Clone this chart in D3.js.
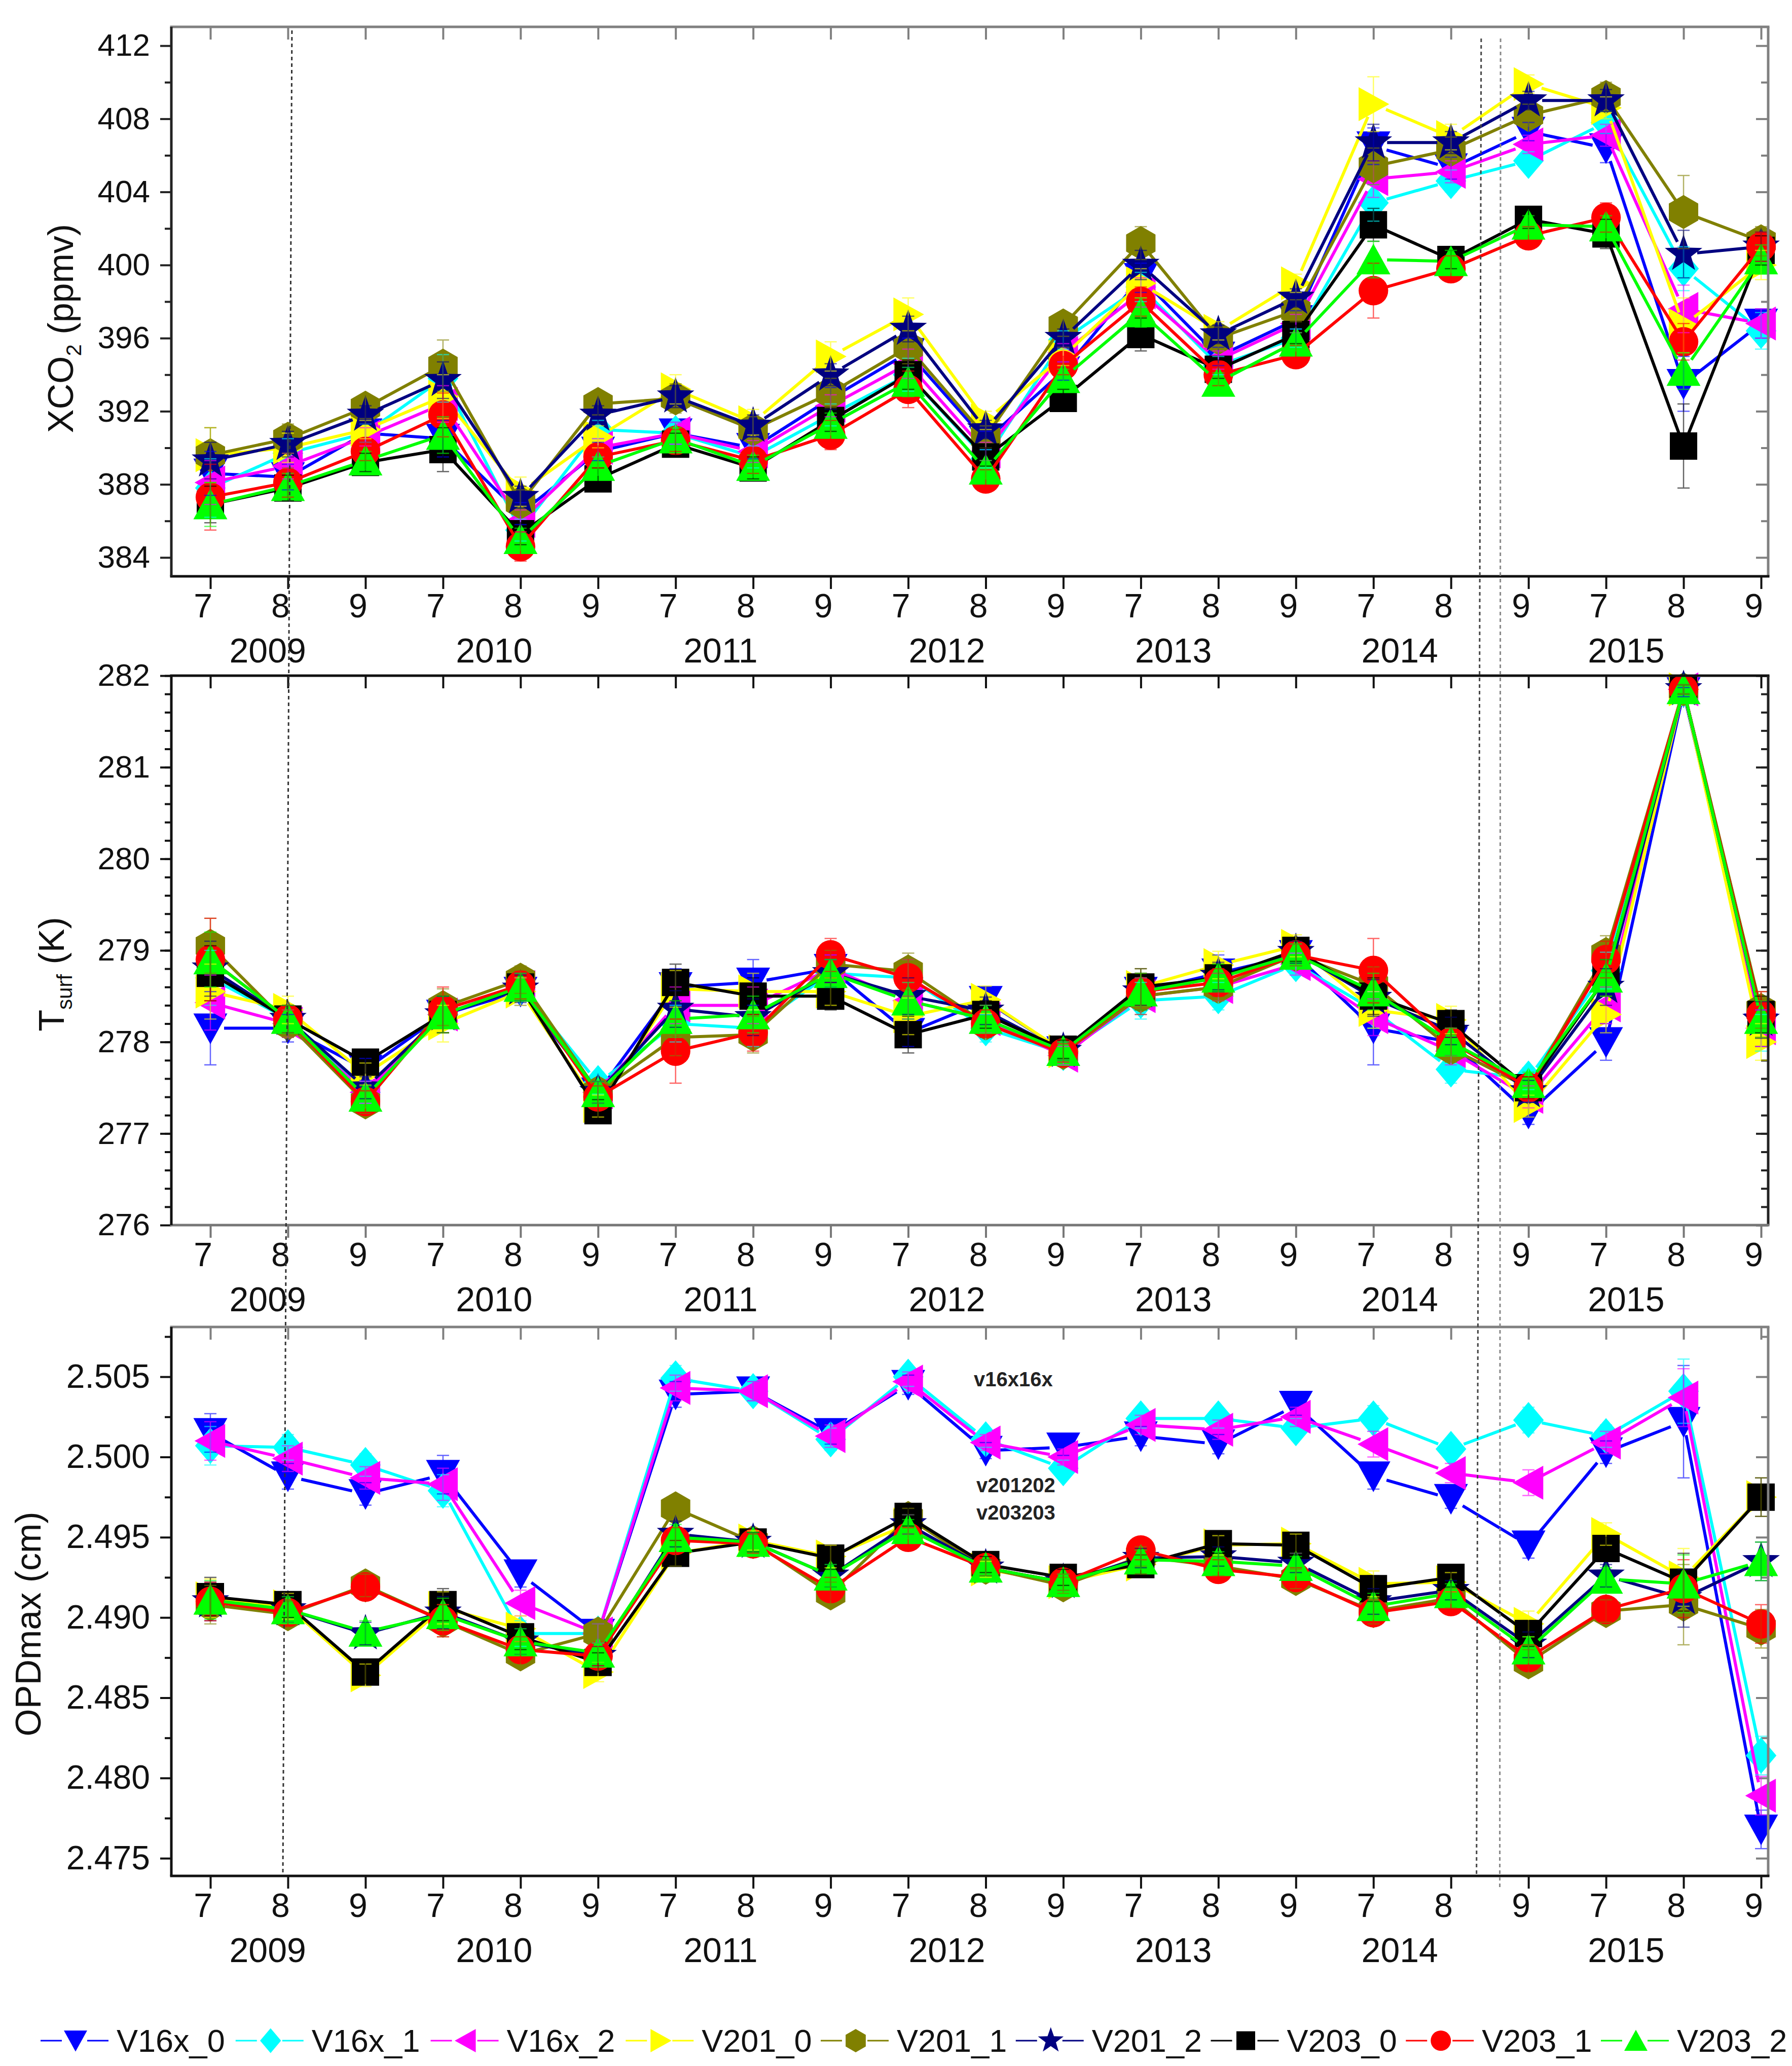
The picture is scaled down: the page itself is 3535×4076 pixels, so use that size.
<!DOCTYPE html>
<html lang="en">
<head>
<meta charset="utf-8">
<title>XCO2, Tsurf and OPDmax</title>
<script src="https://d3js.org/d3.v7.min.js"></script>
<style>
  body { margin: 0; background: #fff; }
  svg { display: block; font-family: "Liberation Sans", Arial, sans-serif; }
</style>
</head>
<body>
<script>

// ---------- data ----------
var years = ["2009", "2010", "2011", "2012", "2013", "2014", "2015"];
var months = ["7", "8", "9"];
var monthLabels = years.flatMap(function () { return months; });   // 21 periods

var names  = ["V16x_0", "V16x_1", "V16x_2", "V201_0", "V201_1", "V201_2", "V203_0", "V203_1", "V203_2"];
var colors = ["#0000ff", "#00ffff", "#ff00ff", "#ffff00", "#808000", "#000080", "#000000", "#ff0000", "#00ff00"];
var shapes = ["tri-down", "diamond", "tri-left", "tri-right", "hexagon", "star", "square", "circle", "tri-up"];

// XCO2 (ppmv), one row per series (same order as names)
var xco2 = [
  [388.6, 388.4, 390.8, 390.5, 386.4, 389.8, 390.8, 390.0, 392.7, 395.2, 390.4, 394.2, 399.3, 395.0, 397.0, 406.5, 405.3, 407.3, 406.4, 393.5, 396.8],
  [387.8, 389.7, 390.8, 393.8, 385.5, 391.0, 390.8, 389.5, 391.8, 394.0, 389.4, 395.9, 398.8, 394.5, 396.0, 403.4, 404.6, 405.7, 407.8, 399.8, 396.4],
  [388.1, 389.0, 390.6, 392.4, 386.0, 390.0, 390.8, 389.8, 392.3, 394.6, 389.8, 395.2, 398.5, 394.8, 396.8, 404.7, 405.1, 406.6, 407.1, 397.6, 396.8],
  [389.6, 390.0, 391.0, 392.8, 387.6, 390.6, 393.2, 391.4, 395.0, 397.3, 391.5, 395.0, 399.0, 396.4, 399.0, 408.8, 407.0, 409.9, 408.6, 396.7, 400.0],
  [389.6, 390.5, 392.2, 394.5, 387.0, 392.4, 392.7, 391.0, 393.0, 395.5, 390.6, 396.7, 401.2, 396.0, 397.5, 405.4, 406.3, 408.2, 409.2, 402.9, 401.3],
  [389.3, 390.2, 391.8, 393.7, 387.3, 391.8, 392.8, 391.2, 394.0, 396.5, 391.0, 396.0, 400.0, 396.2, 398.2, 406.7, 406.7, 409.0, 409.0, 400.6, 401.0],
  [386.9, 387.8, 389.2, 389.9, 385.3, 388.3, 390.2, 388.9, 391.5, 394.0, 389.5, 392.7, 396.2, 394.3, 396.2, 402.2, 400.3, 402.5, 401.7, 390.1, 400.8],
  [387.3, 388.1, 389.8, 391.8, 384.6, 389.5, 390.4, 389.3, 390.7, 393.2, 388.3, 394.5, 398.0, 394.0, 395.1, 398.6, 399.8, 401.6, 402.6, 395.8, 401.0],
  [386.9, 387.9, 389.3, 390.7, 385.0, 389.0, 390.5, 389.0, 391.3, 393.6, 388.8, 393.8, 397.4, 393.6, 395.8, 400.3, 400.2, 402.2, 402.1, 394.2, 400.3]
];
var xco2Err = [
  [1.2, 0.7, 0.5, 1.0, 0.6, 0.5, 0.6, 0.6, 0.6, 0.8, 0.5, 0.5, 0.8, 0.5, 0.5, 1.0, 0.6, 0.5, 0.8, 1.5, 0.8],
  [1.6, 0.8, 0.5, 1.3, 0.6, 0.5, 0.6, 0.6, 0.6, 0.9, 0.5, 0.5, 0.8, 0.5, 0.5, 1.0, 0.6, 0.5, 0.6, 1.2, 1.0],
  [1.2, 0.7, 0.5, 1.0, 0.6, 0.5, 0.6, 0.6, 0.6, 0.8, 0.5, 0.5, 0.8, 0.5, 0.5, 1.0, 0.6, 0.5, 0.6, 1.3, 0.8],
  [1.5, 0.8, 0.5, 1.2, 0.8, 0.6, 0.8, 0.7, 0.8, 0.9, 0.5, 0.5, 0.8, 0.5, 0.5, 1.5, 0.7, 0.5, 0.6, 1.5, 0.8],
  [1.5, 0.8, 0.6, 1.4, 0.7, 0.6, 0.8, 0.7, 0.8, 0.9, 0.6, 0.6, 0.9, 0.6, 0.6, 1.0, 0.7, 0.6, 0.8, 2.0, 0.8],
  [1.0, 0.7, 0.5, 1.0, 0.6, 0.5, 0.6, 0.6, 0.6, 0.7, 0.5, 0.5, 0.8, 0.5, 0.5, 1.0, 0.6, 0.5, 0.6, 1.3, 0.8],
  [1.0, 0.7, 0.5, 1.2, 0.6, 0.6, 0.6, 0.6, 0.6, 0.8, 0.5, 0.5, 0.9, 0.5, 0.5, 0.9, 0.5, 0.5, 0.8, 2.3, 0.8],
  [1.8, 0.8, 0.5, 1.2, 0.8, 0.6, 0.6, 0.7, 0.8, 1.0, 0.5, 0.5, 0.8, 0.6, 0.5, 1.5, 0.7, 0.5, 0.8, 1.0, 0.8],
  [1.2, 0.7, 0.5, 1.0, 0.6, 0.5, 0.6, 0.6, 0.6, 0.8, 0.5, 0.5, 0.8, 0.5, 0.5, 1.0, 0.6, 0.5, 0.6, 1.0, 0.8]
];

// surface temperature (K)
var tsurf = [
  [278.15, 278.15, 277.70, 278.30, 278.55, 277.45, 278.60, 278.65, 278.80, 278.10, 278.45, 277.90, 278.55, 278.75, 278.95, 278.15, 278.00, 277.22, 278.00, 281.82, 278.15],
  [278.70, 278.25, 277.45, 278.30, 278.60, 277.55, 278.20, 278.15, 278.75, 278.70, 278.15, 277.88, 278.45, 278.50, 278.85, 278.35, 277.70, 277.60, 278.78, 281.85, 278.10],
  [278.43, 278.20, 277.45, 278.30, 278.60, 277.45, 278.40, 278.40, 278.80, 278.45, 278.25, 277.85, 278.50, 278.60, 278.85, 278.27, 277.90, 277.40, 278.40, 281.85, 278.15],
  [278.55, 278.35, 277.65, 278.20, 278.55, 277.30, 278.58, 278.55, 278.55, 278.28, 278.46, 277.90, 278.60, 278.84, 279.05, 278.35, 278.24, 277.30, 278.30, 281.85, 278.00],
  [279.05, 278.20, 277.34, 278.38, 278.68, 277.45, 278.05, 278.08, 278.85, 278.77, 278.20, 277.88, 278.50, 278.60, 278.95, 278.62, 277.93, 277.50, 278.96, 281.85, 278.35],
  [278.80, 278.25, 277.50, 278.30, 278.58, 277.45, 278.36, 278.27, 278.75, 278.50, 278.34, 277.90, 278.55, 278.72, 278.98, 278.48, 278.12, 277.46, 278.60, 281.85, 278.24],
  [278.75, 278.25, 277.78, 278.30, 278.60, 277.25, 278.65, 278.50, 278.50, 278.08, 278.30, 277.92, 278.60, 278.70, 279.00, 278.50, 278.20, 277.50, 278.70, 281.85, 278.30],
  [278.90, 278.25, 277.35, 278.35, 278.62, 277.40, 277.90, 278.10, 278.95, 278.70, 278.20, 277.88, 278.55, 278.65, 278.95, 278.78, 278.00, 277.50, 278.90, 281.85, 278.30],
  [278.90, 278.25, 277.40, 278.30, 278.60, 277.45, 278.25, 278.30, 278.75, 278.45, 278.25, 277.90, 278.55, 278.70, 278.95, 278.55, 278.00, 277.55, 278.70, 281.85, 278.25]
];
var tsurfErrBase = [0.30, 0.15, 0.12, 0.20, 0.15, 0.12, 0.20, 0.20, 0.15, 0.20, 0.15, 0.10, 0.20, 0.15, 0.12, 0.20, 0.15, 0.12, 0.20, 0.05, 0.20];
var tsurfErrBlue = [0.40, 0.15, 0.12, 0.20, 0.15, 0.12, 0.20, 0.25, 0.15, 0.15, 0.15, 0.10, 0.15, 0.20, 0.12, 0.40, 0.15, 0.12, 0.20, 0.05, 0.20];
var tsurfErrRed  = [0.45, 0.15, 0.12, 0.25, 0.15, 0.12, 0.35, 0.20, 0.18, 0.20, 0.15, 0.10, 0.20, 0.15, 0.12, 0.35, 0.15, 0.12, 0.20, 0.05, 0.25];
var tsurfErr = [tsurfErrBlue, tsurfErrBase, tsurfErrBase, tsurfErrBase, tsurfErrBase, tsurfErrBase, tsurfErrBase, tsurfErrRed, tsurfErrBase];

// OPDmax (cm)
var opd = [
  [2.5015, 2.4988, 2.4977, 2.4989, 2.4927, 2.4890, 2.5039, 2.5041, 2.5015, 2.5045, 2.5004, 2.5006, 2.5013, 2.5008, 2.5032, 2.4988, 2.4974, 2.4945, 2.5003, 2.5022, 2.4768],
  [2.5007, 2.5006, 2.4995, 2.4979, 2.4890, 2.4890, 2.5049, 2.5041, 2.5011, 2.5050, 2.5011, 2.4993, 2.5024, 2.5024, 2.5018, 2.5024, 2.5005, 2.5023, 2.5013, 2.5041, 2.4814],
  [2.5010, 2.4999, 2.4987, 2.4983, 2.4909, 2.4890, 2.5043, 2.5041, 2.5013, 2.5047, 2.5009, 2.5000, 2.5020, 2.5017, 2.5025, 2.5008, 2.4990, 2.4984, 2.5009, 2.5037, 2.4789],
  [2.4912, 2.4907, 2.4864, 2.4906, 2.4893, 2.4866, 2.4940, 2.4948, 2.4938, 2.4958, 2.4930, 2.4922, 2.4933, 2.4945, 2.4946, 2.4921, 2.4922, 2.4896, 2.4952, 2.4925, 2.4975],
  [2.4908, 2.4902, 2.4920, 2.4898, 2.4877, 2.4890, 2.4968, 2.4947, 2.4915, 2.4962, 2.4931, 2.4920, 2.4938, 2.4932, 2.4924, 2.4904, 2.4912, 2.4872, 2.4904, 2.4908, 2.4893],
  [2.4910, 2.4905, 2.4890, 2.4903, 2.4885, 2.4876, 2.4952, 2.4947, 2.4926, 2.4958, 2.4931, 2.4922, 2.4937, 2.4938, 2.4934, 2.4910, 2.4917, 2.4883, 2.4926, 2.4912, 2.4935],
  [2.4913, 2.4908, 2.4866, 2.4908, 2.4888, 2.4872, 2.4940, 2.4947, 2.4937, 2.4963, 2.4933, 2.4925, 2.4933, 2.4946, 2.4945, 2.4918, 2.4925, 2.4890, 2.4943, 2.4922, 2.4975],
  [2.4910, 2.4903, 2.4919, 2.4898, 2.4880, 2.4876, 2.4948, 2.4946, 2.4918, 2.4950, 2.4931, 2.4922, 2.4942, 2.4930, 2.4925, 2.4903, 2.4910, 2.4875, 2.4905, 2.4918, 2.4896],
  [2.4911, 2.4905, 2.4891, 2.4902, 2.4885, 2.4878, 2.4950, 2.4947, 2.4926, 2.4955, 2.4931, 2.4922, 2.4936, 2.4935, 2.4932, 2.4907, 2.4915, 2.4880, 2.4924, 2.4921, 2.4935]
];
var opdErrBase  = [0.0012, 0.0008, 0.0007, 0.0010, 0.0008, 0.0006, 0.0008, 0.0006, 0.0007, 0.0006, 0.0005, 0.0005, 0.0006, 0.0006, 0.0006, 0.0008, 0.0006, 0.0008, 0.0007, 0.0018, 0.0012];
var opdErrBlue  = [0.0012, 0.0008, 0.0007, 0.0012, 0.0008, 0.0006, 0.0008, 0.0006, 0.0007, 0.0006, 0.0005, 0.0005, 0.0006, 0.0006, 0.0006, 0.0008, 0.0006, 0.0008, 0.0007, 0.0035, 0.0012];
var opdErrCyan  = [0.0012, 0.0008, 0.0007, 0.0010, 0.0008, 0.0006, 0.0008, 0.0006, 0.0007, 0.0006, 0.0005, 0.0005, 0.0006, 0.0006, 0.0006, 0.0008, 0.0006, 0.0008, 0.0007, 0.0020, 0.0012];
var opdErrOlive = [0.0012, 0.0008, 0.0007, 0.0010, 0.0008, 0.0006, 0.0008, 0.0006, 0.0007, 0.0006, 0.0005, 0.0005, 0.0006, 0.0006, 0.0006, 0.0008, 0.0006, 0.0008, 0.0007, 0.0025, 0.0012];
var opdErr = [opdErrBlue, opdErrCyan, opdErrBase, opdErrBase, opdErrOlive, opdErrBase, opdErrBase, opdErrBase, opdErrBase];

// y tick labels
var xco2Ticks  = [384, 388, 392, 396, 400, 404, 408, 412];
var tsurfTicks = [276, 277, 278, 279, 280, 281, 282];
var opdTicks   = [2.475, 2.480, 2.485, 2.490, 2.495, 2.500, 2.505];

// text notes in the bottom panel
var opdNotes = ["v16x16x", "v201202", "v203203"];

// ---------- layout ----------
var w = 3535, h = 4076;
var left = 338, right = 3488;
var mk = 1.08;     // marker scale in the plots

var svg = d3.select("body").append("svg")
  .attr("width", w).attr("height", h);

var x = d3.scaleLinear().domain([0, monthLabels.length - 1]).range([415, 3474]);

var panels = [
  { top: 53, bottom: 1137, domain: [382.97, 413.03], ticks: xco2Ticks, minor: d3.range(386, 412, 4),
    fmt: d3.format("d"), labelSize: 62, values: xco2, errs: xco2Err,
    title: [["XCO", 0], ["2", 1], [" (ppmv)", 0]], titleX: 144, titleY: 648,
    frame: ["#808080", "#808080", "#111", "#222"] },
  { top: 1333, bottom: 2417, domain: [276, 282], ticks: tsurfTicks, minor: d3.range(276.2, 282, 0.2),
    fmt: d3.format("d"), labelSize: 62, values: tsurf, errs: tsurfErr,
    title: [["T", 0], ["surf", 1], [" (K)", 0]], titleX: 126, titleY: 1922,
    frame: ["#111", "#222", "#777", "#111"] },
  { top: 2618, bottom: 3701, domain: [2.4739, 2.5081], ticks: opdTicks, minor: d3.range(2.4775, 2.508, 0.005),
    fmt: d3.format(".3f"), labelSize: 66, values: opd, errs: opdErr,
    title: [["OPDmax (cm)", 0]], titleX: 80, titleY: 3204,
    frame: ["#808080", "#808080", "#111", "#111"] }
];

// marker outlines, centred on 0,0
function markerPath(shape, k) {
  var pts, i, a;
  if (shape === "circle") {
    var p = d3.path(); p.arc(0, 0, 27 * k, 0, 2 * Math.PI); p.closePath(); return p.toString();
  }
  if (shape === "square")    pts = [[-25, -25], [25, -25], [25, 25], [-25, 25]];
  if (shape === "tri-down")  pts = [[-31, -27], [31, -27], [0, 29]];
  if (shape === "tri-up")    pts = [[0, -29], [31, 27], [-31, 27]];
  if (shape === "tri-left")  pts = [[-29, 0], [27, -31], [27, 31]];
  if (shape === "tri-right") pts = [[29, 0], [-27, -31], [-27, 31]];
  if (shape === "diamond")   pts = [[0, -33], [28, 0], [0, 33], [-28, 0]];
  if (shape === "hexagon") {
    pts = [];
    for (i = 0; i < 6; i++) { a = -Math.PI / 2 + i * Math.PI / 3; pts.push([31 * Math.cos(a), 31 * Math.sin(a)]); }
  }
  if (shape === "star") {
    pts = [];
    for (i = 0; i < 10; i++) {
      a = -Math.PI / 2 + i * Math.PI / 5;
      var r = i % 2 ? 14.5 : 36;
      pts.push([r * Math.cos(a), r * Math.sin(a)]);
    }
  }
  return "M" + pts.map(function (q) { return (q[0] * k).toFixed(2) + "," + (q[1] * k).toFixed(2); }).join("L") + "Z";
}

// Origin style: line segments stop short of the markers
function gapSegment(p, q, g) {
  var dx = q[0] - p[0], dy = q[1] - p[1], L = Math.hypot(dx, dy);
  if (L <= 2 * g) return null;
  var ux = dx / L, uy = dy / L;
  return [p[0] + ux * g, p[1] + uy * g, q[0] - ux * g, q[1] - uy * g];
}

panels.forEach(function (cfg) {
  var y = d3.scaleLinear().domain(cfg.domain).range([cfg.bottom, cfg.top]);
  var g = svg.append("g");

  // left axis, ticks outward
  var la = g.append("g").attr("transform", "translate(" + left + ",0)")
    .call(d3.axisLeft(y).tickValues(cfg.ticks).tickSize(22).tickPadding(20).tickFormat(cfg.fmt));
  la.append("g").call(d3.axisLeft(y).tickValues(cfg.minor).tickSize(13).tickFormat(""));
  la.selectAll(".domain").remove();
  la.selectAll("line").attr("stroke", cfg.frame[3]).attr("stroke-width", 4);
  la.selectAll("text").attr("font-size", cfg.labelSize).attr("fill", "#111")
    .attr("font-family", "Liberation Sans, Arial, sans-serif");

  // right axis, ticks inward
  var ra = g.append("g").attr("transform", "translate(" + right + ",0)");
  ra.append("g").call(d3.axisLeft(y).tickValues(cfg.ticks).tickSize(24).tickFormat(""));
  ra.append("g").call(d3.axisLeft(y).tickValues(cfg.minor).tickSize(14).tickFormat(""));
  ra.selectAll(".domain").remove();
  ra.selectAll("line").attr("stroke", cfg.frame[1]).attr("stroke-width", 4);

  // bottom axis, ticks outward
  var ba = g.append("g").attr("transform", "translate(0," + cfg.bottom + ")")
    .call(d3.axisBottom(x).tickValues(d3.range(monthLabels.length)).tickSize(25).tickPadding(9)
      .tickFormat(function (i) { return monthLabels[i]; }));
  ba.selectAll(".domain").remove();
  ba.selectAll("line").attr("stroke", cfg.frame[2]).attr("stroke-width", 4);
  ba.selectAll("text").attr("font-size", 66).attr("fill", "#111").attr("dx", -15)
    .attr("font-family", "Liberation Sans, Arial, sans-serif");

  // top axis, ticks inward
  var ta = g.append("g").attr("transform", "translate(0," + cfg.top + ")")
    .call(d3.axisBottom(x).tickValues(d3.range(monthLabels.length)).tickSize(25).tickFormat(""));
  ta.selectAll(".domain").remove();
  ta.selectAll("line").attr("stroke", cfg.frame[0]).attr("stroke-width", 4);

  // year labels under the month labels
  g.append("g").selectAll("text").data(years).enter().append("text")
    .attr("x", function (d, k) { return x(0.74 + 2.92 * k); })
    .attr("y", cfg.bottom + 170)
    .attr("text-anchor", "middle").attr("font-size", 68).attr("fill", "#111")
    .text(function (d) { return d; });

  // y title
  var tt = g.append("text")
    .attr("transform", "translate(" + cfg.titleX + "," + cfg.titleY + ") rotate(-90)")
    .attr("text-anchor", "middle").attr("font-size", 70).attr("fill", "#111");
  cfg.title.forEach(function (part) {
    var ts = tt.append("tspan").text(part[0]);
    if (part[1]) ts.attr("font-size", 42).attr("dy", 16);
    else if (tt.selectAll("tspan").size() > 1) ts.attr("dy", -16);
  });

  // series: line segments then markers, in legend order
  names.forEach(function (name, si) {
    var pts = cfg.values[si].map(function (v, i) { return [x(i), y(v)]; });
    var sg = g.append("g");
    var segs = d3.pairs(pts).map(function (pq) { return gapSegment(pq[0], pq[1], 27); })
      .filter(function (s) { return s; });
    sg.selectAll("line").data(segs).enter().append("line")
      .attr("x1", function (s) { return s[0]; }).attr("y1", function (s) { return s[1]; })
      .attr("x2", function (s) { return s[2]; }).attr("y2", function (s) { return s[3]; })
      .attr("stroke", colors[si]).attr("stroke-width", 6);
    sg.selectAll("path").data(pts).enter().append("path")
      .attr("transform", function (p) { return "translate(" + p[0] + "," + p[1] + ")"; })
      .attr("d", markerPath(shapes[si], mk))
      .attr("fill", colors[si]);
  });

  // error bars on top
  names.forEach(function (name, si) {
    var eg = g.append("g").attr("stroke", colors[si]).attr("stroke-width", 2.5).attr("opacity", 0.6);
    cfg.values[si].forEach(function (v, i) {
      var e = cfg.errs[si][i], cx = x(i), y1 = y(v - e), y2 = y(v + e);
      eg.append("line").attr("x1", cx).attr("x2", cx).attr("y1", y1).attr("y2", y2);
      eg.append("line").attr("x1", cx - 12).attr("x2", cx + 12).attr("y1", y1).attr("y2", y1);
      eg.append("line").attr("x1", cx - 12).attr("x2", cx + 12).attr("y1", y2).attr("y2", y2);
    });
  });

  // frame
  var fr = [[left, cfg.top, right, cfg.top], [right, cfg.top, right, cfg.bottom],
            [left, cfg.bottom, right, cfg.bottom], [left, cfg.top, left, cfg.bottom]];
  fr.forEach(function (s, k) {
    g.append("line").attr("x1", s[0] - (k % 2 ? 0 : 2.5)).attr("x2", s[2] + (k % 2 ? 0 : 2.5))
      .attr("y1", s[1]).attr("y2", s[3])
      .attr("stroke", cfg.frame[k]).attr("stroke-width", 5);
  });
});

// notes in the OPDmax panel
svg.append("g").selectAll("text").data(opdNotes).enter().append("text")
  .attr("x", function (d, i) { return i ? 1926 : 1921; })
  .attr("y", function (d, i) { return [2735, 2944, 2998][i]; })
  .attr("font-size", 40).attr("font-weight", "bold").attr("fill", "#222")
  .text(function (d) { return d; });

// dotted guide lines running through the three panels
var guides = [
  { x1: 1.052, y1: 60, x2: 0.935, y2: 3700, c: "#333" },
  { x1: 16.39, y1: 76, x2: 16.33, y2: 3698, c: "#444" },
  { x1: 16.64, y1: 76, x2: 16.63, y2: 3727, c: "#888" }
];
svg.append("g").selectAll("line").data(guides).enter().append("line")
  .attr("x1", function (d) { return x(d.x1); }).attr("y1", function (d) { return d.y1; })
  .attr("x2", function (d) { return x(d.x2); }).attr("y2", function (d) { return d.y2; })
  .attr("stroke", function (d) { return d.c; }).attr("stroke-width", 3)
  .attr("stroke-dasharray", "7,6");

// legend
var legY = 4026;
var leg = svg.append("g");
names.forEach(function (name, si) {
  var x0 = 80 + si * 384.75;
  var it = leg.append("g").attr("transform", "translate(" + x0 + "," + legY + ")");
  it.append("line").attr("x1", 0).attr("x2", 42).attr("stroke", colors[si]).attr("stroke-width", 3);
  it.append("line").attr("x1", 92).attr("x2", 134).attr("stroke", colors[si]).attr("stroke-width", 3);
  it.append("path").attr("transform", "translate(69,0)").attr("d", markerPath(shapes[si], 0.74))
    .attr("fill", colors[si]);
  it.append("text").attr("x", 150).attr("y", 22).attr("font-size", 63).attr("fill", "#111").text(name);
});

</script>
</body>
</html>
